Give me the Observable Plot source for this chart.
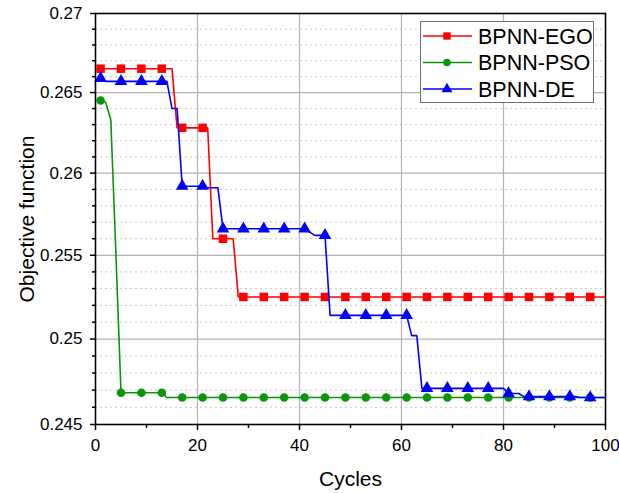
<!DOCTYPE html>
<html><head><meta charset="utf-8">
<script src="https://cdn.jsdelivr.net/npm/d3@7"></script>
<script src="https://cdn.jsdelivr.net/npm/@observablehq/plot@0.6"></script>
<style>
body{margin:0;background:#fff;font-family:"Liberation Sans",Arial,sans-serif;}
#wrap{position:relative;width:619px;height:493px;}
#legend{position:absolute;left:420px;top:21px;width:172px;height:80px;border:1px solid #707070;background:#fff;}
</style></head><body><div id="wrap"></div>
<script>
const seriesNames = ["BPNN-EGO","BPNN-PSO","BPNN-DE"];
const seriesColors = ["#ff0000","#0a950a","#0000ff"];
const seriesSymbols = ["square","circle","triangle"];
const markerCycles = [1,5,9,13,17,21,25,29,33,37,41,45,49,53,57,61,65,69,73,77,81,85,89,93,97];
const xTicks = [0,20,40,60,80,100];
const xMinorTicks = [10,30,50,70,90];
const xGridLines = [20,40,60,80];
const yTicks = [0.245,0.25,0.255,0.26,0.265,0.27];
const yTickLabels = ["0.245","0.25","0.255","0.26","0.265","0.27"];
const yGridLines = [0.25,0.255,0.26,0.265];
const yMinorTicks = [0.246,0.247,0.248,0.249,0.251,0.252,0.253,0.254,0.256,0.257,0.258,0.259,0.261,0.262,0.263,0.264,0.266,0.267,0.268,0.269];

// values per cycle 1..100
const egoValues = [
0.2665,0.2665,0.2665,0.2665,0.2665,0.2665,0.2665,0.2665,0.2665,0.2665,
0.2665,0.2665,0.2665,0.2665,0.2665,0.2628,0.2628,0.2628,0.2628,0.2628,
0.2628,0.2628,0.2560,0.2560,0.2560,0.2560,0.2560,0.2525,0.2525,0.2525,
0.2525,0.2525,0.2525,0.2525,0.2525,0.2525,0.2525,0.2525,0.2525,0.2525,
0.2525,0.2525,0.2525,0.2525,0.2525,0.2525,0.2525,0.2525,0.2525,0.2525,
0.2525,0.2525,0.2525,0.2525,0.2525,0.2525,0.2525,0.2525,0.2525,0.2525,
0.2525,0.2525,0.2525,0.2525,0.2525,0.2525,0.2525,0.2525,0.2525,0.2525,
0.2525,0.2525,0.2525,0.2525,0.2525,0.2525,0.2525,0.2525,0.2525,0.2525,
0.2525,0.2525,0.2525,0.2525,0.2525,0.2525,0.2525,0.2525,0.2525,0.2525,
0.2525,0.2525,0.2525,0.2525,0.2525,0.2525,0.2525,0.2525,0.2525,0.2525];
const psoValues = [
0.2645,0.2644,0.2633,0.2551,0.24685,0.24685,0.24685,0.24685,0.24685,0.24685,
0.24685,0.24685,0.24685,0.24657,0.24657,0.24657,0.24657,0.24657,0.24657,0.24657,
0.24657,0.24657,0.24657,0.24657,0.24657,0.24657,0.24657,0.24657,0.24657,0.24657,
0.24657,0.24657,0.24657,0.24657,0.24657,0.24657,0.24657,0.24657,0.24657,0.24657,
0.24657,0.24657,0.24657,0.24657,0.24657,0.24657,0.24657,0.24657,0.24657,0.24657,
0.24657,0.24657,0.24657,0.24657,0.24657,0.24657,0.24657,0.24657,0.24657,0.24657,
0.24657,0.24657,0.24657,0.24657,0.24657,0.24657,0.24657,0.24657,0.24657,0.24657,
0.24657,0.24657,0.24657,0.24657,0.24657,0.24657,0.24657,0.24657,0.24657,0.24657,
0.24657,0.24657,0.24657,0.24657,0.24657,0.24657,0.24657,0.24657,0.24657,0.24657,
0.24657,0.24657,0.24657,0.24657,0.24657,0.24657,0.24657,0.24657,0.24657,0.24657];
const deValues = [
0.2659,0.2657,0.2657,0.2657,0.2657,0.2657,0.2657,0.2657,0.2657,0.2657,
0.2657,0.2657,0.2657,0.2657,0.2640,0.2640,0.2592,0.2592,0.2592,0.2592,
0.2592,0.2591,0.2591,0.2591,0.2566,0.2566,0.2566,0.2566,0.2566,0.2566,
0.2566,0.2566,0.2566,0.2566,0.2566,0.2566,0.2566,0.2566,0.2566,0.2566,
0.2566,0.2564,0.2562,0.2562,0.2562,0.2514,0.2514,0.2514,0.2514,0.2514,
0.2514,0.2514,0.2514,0.2514,0.2514,0.2514,0.2514,0.2514,0.2514,0.2514,
0.2514,0.2502,0.2502,0.2471,0.2471,0.2471,0.2471,0.2471,0.2471,0.2471,
0.2471,0.2471,0.2471,0.2471,0.2471,0.2471,0.2471,0.2471,0.2471,0.2471,
0.2468,0.2468,0.2468,0.24662,0.24662,0.24662,0.24662,0.24662,0.24662,0.24662,
0.24662,0.24662,0.24662,0.24662,0.24657,0.24657,0.24657,0.24657,0.24657,0.24657];

const allValues = [egoValues, psoValues, deValues];
const markerR = {square: 4.8, circle: 4.3, triangle: 4.7};

const seriesMarks = [];
seriesNames.forEach((name, i) => {
  const rows = allValues[i].map((v, j) => ({series: name, cycle: j + 1, value: v}));
  const pts = rows.filter(d => markerCycles.includes(d.cycle));
  seriesMarks.push(Plot.line(rows, {x: "cycle", y: "value", stroke: seriesColors[i], strokeWidth: 1.6}));
  seriesMarks.push(Plot.dot(pts, {x: "cycle", y: "value", symbol: () => seriesSymbols[i], fill: seriesColors[i], stroke: "none", r: markerR[seriesSymbols[i]]}));
});

const chart = Plot.plot({
  width: 619, height: 493,
  marginLeft: 95, marginRight: 14, marginTop: 13, marginBottom: 69,
  style: {fontFamily: "'Liberation Sans', Arial, sans-serif", fontSize: "17px", color: "#000", background: "#fff", overflow: "visible"},
  x: {domain: [0, 100]},
  y: {type: "log", domain: [0.245, 0.27]},
  symbol: {type: "identity"},
  marks: [
    Plot.gridY(yMinorTicks, {stroke: "#c8c8c8", strokeOpacity: 1, strokeDasharray: "2,3"}),
    Plot.gridY(yGridLines, {stroke: "#b4b4b4", strokeOpacity: 1, strokeWidth: 1.2}),
    Plot.gridX(xGridLines, {stroke: "#b4b4b4", strokeOpacity: 1, strokeWidth: 1.2}),
    Plot.axisY(yMinorTicks, {tickSize: 3, text: null, label: null, strokeWidth: 1.5}),
    Plot.axisY(yTicks, {tickSize: 5, tickPadding: 8, strokeWidth: 1.5, label: null,
      tickFormat: d => yTickLabels[yTicks.indexOf(d)], fontSize: 17}),
    Plot.axisX(xMinorTicks, {tickSize: 4, text: null, label: null, strokeWidth: 1.5}),
    Plot.axisX(xTicks, {tickSize: 6, tickPadding: 8, strokeWidth: 1.5, label: null, fontSize: 17}),
    Plot.text(["Objective function"], {frameAnchor: "left", rotate: -90, dx: -68, fontSize: 21, textAnchor: "middle", lineAnchor: "middle"}),
    Plot.text(["Cycles"], {frameAnchor: "bottom", dy: 55, fontSize: 21, textAnchor: "middle", lineAnchor: "middle"}),
    ...seriesMarks,
    Plot.frame({stroke: "#000", strokeWidth: 1.6})
  ]
});
const wrap = document.getElementById("wrap");
wrap.appendChild(chart);

// legend overlay
const legend = document.createElement("div");
legend.id = "legend";
wrap.appendChild(legend);
const lsvg = d3.select(legend).append("svg").attr("width", 172).attr("height", 80);
seriesNames.forEach((name, i) => {
  const cy = 14 + i * 26.5;
  const g = lsvg.append("g").attr("transform", `translate(0,${cy})`);
  g.append("line").attr("x1", 2).attr("x2", 51).attr("y1", 0).attr("y2", 0).attr("stroke", seriesColors[i]).attr("stroke-width", 1.6);
  const r = markerR[seriesSymbols[i]];
  const sym = {square: d3.symbolSquare, circle: d3.symbolCircle, triangle: d3.symbolTriangle}[seriesSymbols[i]];
  g.append("path").attr("transform", "translate(26,0)").attr("d", d3.symbol(sym, Math.PI * r * r * 0.75)()).attr("fill", seriesColors[i]);
  g.append("text").attr("x", 57).attr("y", 0).attr("dy", "0.36em").attr("font-size", 21.5).attr("font-family", "'Liberation Sans', Arial, sans-serif").text(name);
});
</script>
</body></html>
